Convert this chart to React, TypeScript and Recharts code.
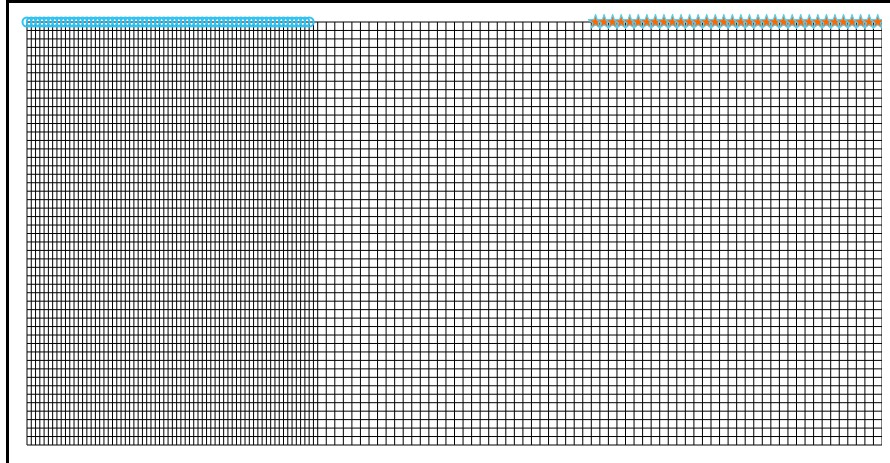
import { ScatterChart, Scatter, XAxis, YAxis, ZAxis, CartesianGrid } from 'recharts';

const circleX = [
  0, 0.5, 1, 1.5, 2, 2.5, 3, 3.5, 4, 4.5, 5, 5.5, 6, 6.5, 7, 7.5, 8, 8.5, 9, 9.5,
  10, 10.5, 11, 11.5, 12, 12.5, 13, 13.5, 14, 14.5, 15, 15.5, 16, 16.5, 17, 17.5,
  18, 18.5, 19, 19.5, 20, 20.5, 21, 21.5, 22, 22.5, 23, 23.5, 24, 24.5, 25, 25.5,
  26, 26.5, 27, 27.5, 28, 28.5, 29, 29.5, 30, 30.5, 31, 31.5, 32, 32.5, 33,
];
const circleY = [
  50, 50, 50, 50, 50, 50, 50, 50, 50, 50, 50, 50, 50, 50, 50, 50, 50, 50, 50, 50,
  50, 50, 50, 50, 50, 50, 50, 50, 50, 50, 50, 50, 50, 50, 50, 50, 50, 50, 50, 50,
  50, 50, 50, 50, 50, 50, 50, 50, 50, 50, 50, 50, 50, 50, 50, 50, 50, 50, 50, 50,
  50, 50, 50, 50, 50, 50, 50,
];

const starX = [
  66.5, 67.5, 68.5, 69.5, 70.5, 71.5, 72.5, 73.5, 74.5, 75.5, 76.5, 77.5,
  78.5, 79.5, 80.5, 81.5, 82.5, 83.5, 84.5, 85.5, 86.5, 87.5, 88.5, 89.5,
  90.5, 91.5, 92.5, 93.5, 94.5, 95.5, 96.5, 97.5, 98.5, 99.5,
];
const starY = [
  50, 50, 50, 50, 50, 50, 50, 50, 50, 50, 50, 50, 50, 50, 50, 50, 50,
  50, 50, 50, 50, 50, 50, 50, 50, 50, 50, 50, 50, 50, 50, 50, 50, 50,
];

const xTicks = [
  0, 0.5, 1, 1.5, 2, 2.5, 3, 3.5, 4, 4.5, 5, 5.5, 6, 6.5, 7, 7.5, 8, 8.5, 9, 9.5,
  10, 10.5, 11, 11.5, 12, 12.5, 13, 13.5, 14, 14.5, 15, 15.5, 16, 16.5, 17, 17.5,
  18, 18.5, 19, 19.5, 20, 20.5, 21, 21.5, 22, 22.5, 23, 23.5, 24, 24.5, 25, 25.5,
  26, 26.5, 27, 27.5, 28, 28.5, 29, 29.5, 30, 30.5, 31, 31.5, 32, 32.5, 33, 33.5, 34,
  35, 36, 37, 38, 39, 40, 41, 42, 43, 44, 45, 46, 47, 48, 49, 50, 51, 52, 53, 54,
  55, 56, 57, 58, 59, 60, 61, 62, 63, 64, 65, 66, 67, 68, 69, 70, 71, 72, 73, 74,
  75, 76, 77, 78, 79, 80, 81, 82, 83, 84, 85, 86, 87, 88, 89, 90, 91, 92, 93, 94,
  95, 96, 97, 98, 99, 100,
];

const yTicks = [
  0, 1, 2, 3, 4, 5, 6, 7, 8, 9, 10, 11, 12, 13, 14, 15, 16, 17, 18, 19, 20, 21, 22,
  23, 24, 25, 26, 27, 28, 29, 30, 31, 32, 33, 34, 35, 36, 37, 38, 39, 40, 41, 42,
  43, 44, 45, 46, 47, 48, 49, 50,
];

const circles = circleX.map((x, i) => ({ x, y: circleY[i] }));
const stars = starX.map((x, i) => ({ x, y: starY[i] }));

// no visible tick labels, but the ticks still drive the grid
const NoTick = () => <g />;

export default function App() {
  return (
    <div style={{ position: 'relative', width: 890, height: 463 }}>
      <div style={{ position: 'absolute', left: -8, top: -8 }}>
        <ScatterChart width={890} height={463} margin={{ top: 22, right: 8, bottom: 18, left: 27 }}>
          <CartesianGrid stroke="#000" strokeOpacity={1} />
          <XAxis
            type="number"
            dataKey="x"
            domain={[0, 100]}
            ticks={xTicks}
            interval={0}
            tick={<NoTick />}
            tickLine={false}
            axisLine={false}
            height={0}
          />
          <YAxis
            type="number"
            dataKey="y"
            domain={[0, 50]}
            ticks={yTicks}
            interval={0}
            tick={<NoTick />}
            tickLine={false}
            axisLine={false}
            width={0}
          />
          <ZAxis zAxisId="c" range={[60, 60]} />
          <ZAxis zAxisId="s" range={[150, 150]} />
          <Scatter
            data={circles}
            zAxisId="c"
            shape="circle"
            fill="none"
            stroke="#30c2f0"
            strokeWidth={2}
            isAnimationActive={false}
          />
          <Scatter
            data={stars}
            zAxisId="s"
            shape="star"
            fill="#ff6600"
            stroke="#5ccdf0"
            strokeWidth={1.2}
            strokeLinejoin="round"
            isAnimationActive={false}
          />
        </ScatterChart>
      </div>
      <div style={{ position: 'fixed', left: 6, top: 0, width: 884, height: 3, background: '#000' }} />
      <div style={{ position: 'fixed', left: 6, top: 0, width: 3, height: 463, background: '#000' }} />
    </div>
  );
}
